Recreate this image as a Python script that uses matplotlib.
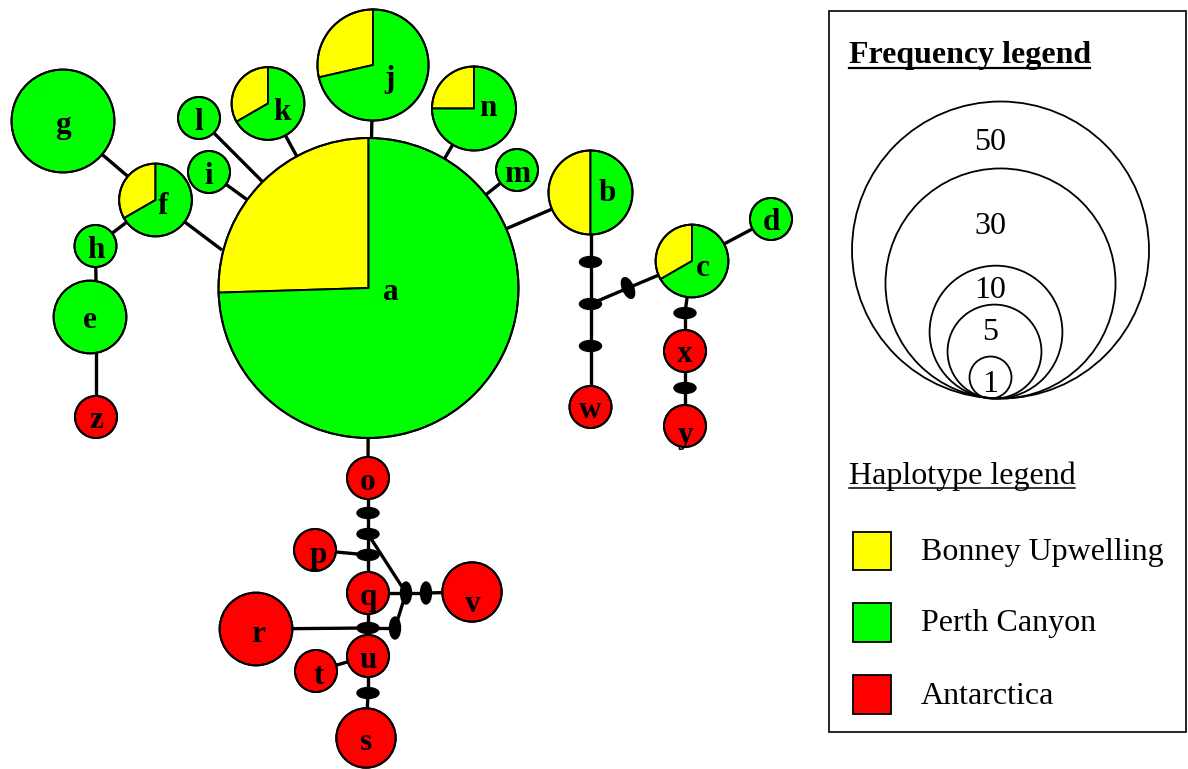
import numpy as np
import matplotlib
matplotlib.use("Agg")
import matplotlib.pyplot as plt
from matplotlib.patches import Circle, Wedge, Ellipse, Rectangle

# haplotype counts per population
haplotypes = list("abcdefghijklmnopqrstuvwxyz")
bonney = [13, 2, 1, 0, 0, 1, 0, 0, 0, 2, 1, 0, 0, 1, 0, 0, 0, 0, 0, 0, 0, 0, 0, 0, 0, 0]
perth = [38, 2, 2, 1, 3, 2, 6, 1, 1, 5, 2, 1, 1, 3, 0, 0, 0, 0, 0, 0, 0, 0, 0, 0, 0, 0]
antarctica = [0, 0, 0, 0, 0, 0, 0, 0, 0, 0, 0, 0, 0, 0, 1, 1, 1, 3, 2, 1, 1, 2, 1, 1, 1, 1]

populations = ["Bonney Upwelling", "Perth Canyon", "Antarctica"]
pop_colors = ["#ffff00", "#00ff00", "#ff0000"]

legend_sizes = [50, 30, 10, 5, 1]

# network layout (pixel positions, y down) ---------------------------------
W, H = 1188, 769
pos = {
    "a": (368.5, 288), "b": (590.5, 192.5), "c": (692, 261), "d": (771, 219),
    "e": (90, 317), "f": (155.5, 200), "g": (63, 121), "h": (95.5, 246),
    "i": (209, 172), "j": (373, 65), "k": (268, 103.5), "l": (199, 118),
    "m": (517, 170), "n": (474, 108.5), "o": (368, 478), "p": (315, 550),
    "q": (368, 593), "r": (256, 629), "s": (366, 738), "t": (316, 671),
    "u": (368, 656), "v": (472, 592), "w": (590.5, 407), "x": (685, 351),
    "y": (685, 426), "z": (96, 417),
    # mutation marks / median vectors
    "bw1": (590.5, 262), "bwj": (590.5, 304), "bw2": (590.5, 346),
    "jc": (628, 288), "cx": (685, 313), "xy": (685, 388),
    "o1": (368, 513), "o2": (368, 534), "o3": (368, 555),
    "q4": (368, 628), "us": (368, 693),
    "e7": (406, 593), "e8": (426, 593), "e6": (395, 628),
    # attachment points on circle rims
    "af": (222, 250), "e_top": (96, 282), "e_bot": (96, 352),
}
marks = ["bw1", "bwj", "bw2", "jc", "cx", "xy", "o1", "o2", "o3", "q4", "us",
         "e7", "e8", "e6"]
vertical_marks = ["e7", "e8", "e6"]

edges = [("a", "j"), ("a", "k"), ("a", "l"), ("a", "i"), ("af", "f"),
         ("a", "n"), ("a", "m"), ("a", "b"), ("a", "o"),
         ("f", "g"), ("f", "h"), ("h", "e_top"), ("e_bot", "z"),
         ("b", "bw1"), ("bw1", "bwj"), ("bwj", "bw2"), ("bw2", "w"),
         ("bwj", "jc"), ("jc", "c"), ("c", "d"), ("c", "cx"), ("cx", "x"),
         ("x", "xy"), ("xy", "y"),
         ("o", "o1"), ("o1", "o2"), ("o2", "o3"), ("o3", "q"), ("p", "o3"),
         ("q", "q4"), ("q4", "u"), ("u", "us"), ("us", "s"), ("t", "u"),
         ("r", "q4"), ("q4", "e6"), ("o2", "e7"), ("q", "e7"), ("e7", "e8"),
         ("e8", "v"), ("e7", "e6")]

label_off = {"a": (22, 1), "j": (16, 10), "k": (14, 5), "f": (8, 3),
             "n": (14, -4), "b": (17, -3), "c": (11, 4), "y": (0, 5),
             "v": (1, 9), "p": (3, 2), "t": (3, 2), "r": (2, 2)}
LABEL_DY = 4  # text box centre sits a bit above the glyph centre

R_UNIT = 21.0


def P(name):
    x, y = pos[name]
    return x, H - y


fig = plt.figure(figsize=(W / 100, H / 100), dpi=100)
ax = fig.add_axes([0, 0, 1, 1])
ax.set_xlim(0, W)
ax.set_ylim(0, H)
ax.axis("off")

serif = "Liberation Serif"

# edges
for n1, n2 in edges:
    x1, y1 = P(n1)
    x2, y2 = P(n2)
    ax.plot([x1, x2], [y1, y2], color="black", lw=2.4, zorder=1,
            solid_capstyle="butt")

# mutation marks, perpendicular to the line they sit on
for m in marks:
    x, y = P(m)
    if m == "jc":
        xa, ya = P("bwj")
        xb, yb = P("c")
        ang = np.degrees(np.arctan2(yb - ya, xb - xa))
    elif m in vertical_marks:
        ang = 0
    else:
        ang = 90
    ax.add_patch(Ellipse((x, y), 11, 22, angle=ang, facecolor="black",
                         edgecolor="black", zorder=2))

# haplotype pies
for i, name in enumerate(haplotypes):
    counts = [bonney[i], perth[i], antarctica[i]]
    total = sum(counts)
    r = R_UNIT * np.sqrt(total)
    cx, cy = P(name)
    start = 90.0
    nonzero = [c for c in counts if c > 0]
    for c, col in zip(counts, pop_colors):
        if c == 0:
            continue
        if len(nonzero) == 1:
            ax.add_patch(Circle((cx, cy), r, facecolor=col, edgecolor="black",
                                lw=1.4, zorder=3))
        else:
            span = 360.0 * c / total
            ax.add_patch(Wedge((cx, cy), r, start, start + span, facecolor=col,
                               edgecolor="black", lw=1.4, zorder=3))
            start += span
    ax.add_patch(Circle((cx, cy), r, fill=False, edgecolor="black", lw=1.4,
                        zorder=4))
    dx, dy = label_off.get(name, (0, 0))
    ax.text(cx + dx, cy - dy - LABEL_DY, name, ha="center", va="center",
            fontsize=22.5, fontweight="bold", family=serif, zorder=5)

# legend box
ax.add_patch(Rectangle((829, H - 732), 357, 721, fill=False,
                       edgecolor="black", lw=1.2, zorder=1))

ax.text(849, H - 63, "Frequency legend", ha="left", va="baseline",
        fontsize=23, fontweight="bold", family=serif)
ax.plot([849, 1090], [H - 68, H - 68], color="black", lw=1.6)

legend_cx = [1000.5, 1000.5, 996, 994.5, 990.5]
legend_num_y = [139, 223, 287, 328, 380]
bottom = 398.5
for n, lx, ny in zip(legend_sizes, legend_cx, legend_num_y):
    r = R_UNIT * np.sqrt(n)
    ax.add_patch(Circle((lx, H - bottom + r), r, fill=False, edgecolor="black",
                        lw=1.3))
    ax.text(990, H - ny - LABEL_DY, str(n), ha="center", va="center",
            fontsize=23, family=serif)

ax.text(849, H - 484, "Haplotype legend", ha="left", va="baseline",
        fontsize=23, family=serif)
ax.plot([849, 1075], [H - 488, H - 488], color="black", lw=1.1)

sq_top = [531.5, 603, 675]
for lab, col, top in zip(populations, pop_colors, sq_top):
    ax.add_patch(Rectangle((852.5, H - top - 38.5), 38.5, 38.5, facecolor=col,
                           edgecolor="black", lw=1.3))
    ax.text(921, H - top - 28.5, lab, ha="left", va="baseline", fontsize=23,
            family=serif)

fig.savefig("out.png", dpi=100)
